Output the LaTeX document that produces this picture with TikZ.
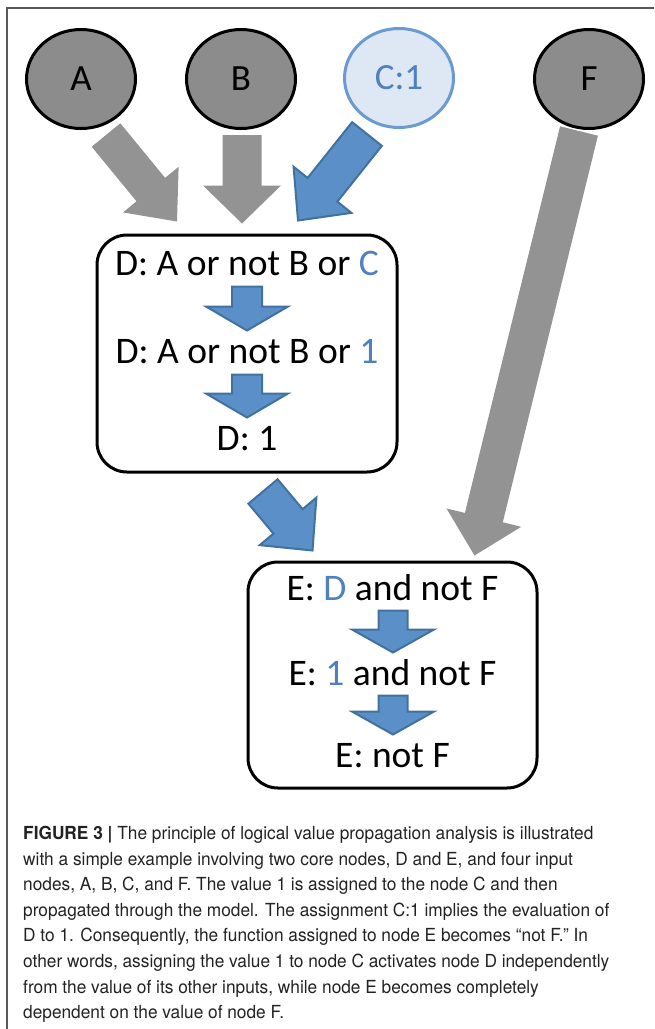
\documentclass[tikz,border=0pt]{standalone}
\usepackage{fontspec}
\setmainfont{Carlito}
\newfontfamily\capfont[FakeStretch=0.96]{TeX Gyre Heros}
\usetikzlibrary{positioning,shapes.geometric,calc}

\definecolor{nodegray}{HTML}{8C8C8C}
\definecolor{arrowgray}{HTML}{939393}
\definecolor{valblue}{HTML}{4F81BD}
\definecolor{arrowblue}{HTML}{5B8FC7}
\definecolor{arrowedge}{HTML}{41719C}
\definecolor{cfill}{HTML}{DEE8F4}
\definecolor{cedge}{HTML}{6A9BD0}
\definecolor{captext}{HTML}{222222}

% block arrow: style, from, to, half shaft, half head, head length
\newcommand{\blockarrow}[6]{%
  \path[#1] let \p1=($(#3)-(#2)$), \n1={atan2(\y1,\x1)}, \n2={veclen(\x1,\y1)} in
    ($(#2)+(\n1+90:#4)$) -- ($(#2)+(\n1:\n2-#6)+(\n1+90:#4)$)
    -- ($(#2)+(\n1:\n2-#6)+(\n1+90:#5)$) -- (#3)
    -- ($(#2)+(\n1:\n2-#6)+(\n1-90:#5)$) -- ($(#2)+(\n1:\n2-#6)+(\n1-90:#4)$)
    -- ($(#2)+(\n1-90:#4)$) -- cycle;
}

\tikzset{
  input/.style={ellipse, draw=black, line width=3pt, fill=nodegray,
    minimum width=109pt, minimum height=99pt, font=\fontsize{37}{40}\selectfont},
  setinput/.style={input, draw=cedge, fill=cfill, text=valblue},
  core/.style={draw=black, line width=3pt, rounded corners=30pt},
  rule/.style={font=\fontsize{37.5}{40}\selectfont, anchor=base, inner sep=0pt},
  grayarrow/.style={fill=arrowgray},
  bluearrow/.style={fill=arrowblue, draw=arrowedge, line width=2pt},
}

\begin{document}
\begin{tikzpicture}[x=1pt,y=-1pt]
    \useasboundingbox (0,0) rectangle (654,1029);
    % frame
    \draw[black!65, line width=1.3pt] (7,1029) -- (7,8) -- (654,8);

    % input nodes
    \node[input] (A) at (81,79) {A};
    \node[input] (B) at (241,79) {B};
    \node[setinput] (C) at (399,78) {C:1};
    \node[input] (F) at (589,79) {F};

    % core nodes
    \node[core, minimum width=300pt, minimum height=237pt] (D) at (247,353.5) {};
    \node[core, minimum width=289pt, minimum height=226pt] (E) at (392.5,675) {};

    % rules of D
    \node[rule] (d1) at ($(D.north)+(0,42)$) {D: A or not B or \textcolor{valblue}{C}};
    \node[rule] (d2) at ($(d1.base)+(0,88)$) {D: A or not B or \textcolor{valblue}{1}};
    \node[rule] (d3) at ($(d2.base)+(0,87)$) {D: 1};
    % rules of E
    \node[rule] (e1) at ($(E.north)+(0,40)$) {E: \textcolor{valblue}{D} and not F};
    \node[rule] (e2) at ($(e1.base)+(0,85)$) {E: \textcolor{valblue}{1} and not F};
    \node[rule] (e3) at ($(e2.base)+(0,82)$) {E: not F};

    % arrow ends
    \coordinate (a0) at ($(A)+(25,56)$);   \coordinate (a1) at ($(D.north)+(-70,-12)$);
    \coordinate (b0) at ($(B)+(1,56)$);    \coordinate (b1) at ($(D.north)+(-5,-10)$);
    \coordinate (c0) at ($(C)+(-32,56)$);  \coordinate (c1) at ($(D.north)+(51,-13)$);
    \coordinate (f0) at ($(F)+(-10,52)$);  \coordinate (f1) at ($(E.north)+(82,-5)$);
    \coordinate (de0) at ($(D.south)+(16,18)$); \coordinate (de1) at ($(E.north)+(-80,-10)$);

    \blockarrow{grayarrow}{a0}{a1}{18.5pt}{36pt}{41pt}
    \blockarrow{grayarrow}{b0}{b1}{19.5pt}{39pt}{38pt}
    \blockarrow{grayarrow}{f0}{f1}{19.5pt}{38.5pt}{39pt}
    \blockarrow{bluearrow}{c0}{c1}{19pt}{37pt}{39pt}
    \blockarrow{bluearrow}{de0}{de1}{19pt}{37pt}{38pt}

    % steps inside the boxes
    \foreach \u/\v in {d1/d2, d2/d3}{
      \coordinate (\u s) at ($(\u.base)+(0,11)$);
      \coordinate (\u t) at ($(\v.base)+(0,-33)$);
      \blockarrow{bluearrow}{\u s}{\u t}{15pt}{41pt}{24pt}
    }
    \foreach \u/\v in {e1/e2, e2/e3}{
      \coordinate (\u s) at ($(\u.base)+(0.5,10)$);
      \coordinate (\u t) at ($(\v.base)+(0.5,-33)$);
      \blockarrow{bluearrow}{\u s}{\u t}{14.5pt}{41pt}{23pt}
    }

    % caption
    \node[anchor=north west, align=left, inner sep=0pt, text=captext,
      font=\capfont\fontsize{18}{25.6}\selectfont] (cap) at (23,826) {%
      \textbf{FIGURE 3 |} The principle of logical value propagation analysis is illustrated\\
      with a simple example involving two core nodes, D and E, and four input\\
      nodes, A, B, C, and F. The value 1 is assigned to the node C and then\\
      propagated through the model. The assignment C:1 implies the evaluation of\\
      D to 1. Consequently, the function assigned to node E becomes “not F.” In\\
      other words, assigning the value 1 to node C activates node D independently\\
      from the value of its other inputs, while node E becomes completely\\
      dependent on the value of node F.};
\end{tikzpicture}
\end{document}
